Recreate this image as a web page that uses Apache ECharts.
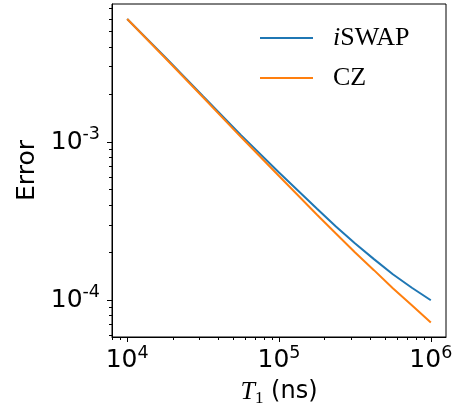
<!DOCTYPE html>
<html><head><meta charset="utf-8">
<script src="https://cdn.jsdelivr.net/npm/echarts@6/dist/echarts.min.js"></script>
<style>html,body{margin:0;padding:0;background:#fff}#c{width:461px;height:409px}</style>
</head><body><div id="c"></div>
<script>
// Data
const t1Values = [10000, 17800, 31600, 56200, 100000, 178000, 237000, 316000, 422000, 562000, 750000, 1000000];
const iswapError = [6.00e-3, 3.44e-3, 1.95e-3, 1.107e-3, 6.42e-4, 3.79e-4, 2.93e-4, 2.29e-4, 1.82e-4, 1.46e-4, 1.20e-4, 1.00e-4];
const czError = [6.00e-3, 3.40e-3, 1.92e-3, 1.076e-3, 6.11e-4, 3.47e-4, 2.64e-4, 2.01e-4, 1.55e-4, 1.19e-4, 9.3e-5, 7.23e-5];
const seriesNames = ['iSWAP', 'CZ'];
const xMajorTicks = [1e4, 1e5, 1e6];
const yMajorTicks = [1e-4, 1e-3];
const xMinorTicks = [8e3, 9e3, 2e4, 3e4, 4e4, 5e4, 6e4, 7e4, 8e4, 9e4, 2e5, 3e5, 4e5, 5e5, 6e5, 7e5, 8e5, 9e5];
const yMinorTicks = [6e-5, 7e-5, 8e-5, 9e-5, 2e-4, 3e-4, 4e-4, 5e-4, 6e-4, 7e-4, 8e-4, 9e-4, 2e-3, 3e-3, 4e-3, 5e-3, 6e-3, 7e-3];
const xRange = [7943, 1258925];
const yRange = [5.856e-5, 7.468e-3];

const SANS = 'DejaVu Sans';
const SERIF = 'Liberation Serif';
const powRich = {
  b: { fontSize: 25, fontFamily: SANS, color: '#000', lineHeight: 33, verticalAlign: 'middle' },
  s: { fontSize: 17.5, fontFamily: SANS, color: '#000', lineHeight: 17, verticalAlign: 'top' }
};
function powLabel(v) {
  const e = Math.round(Math.log10(v));
  return '{b|10}{s|' + (e < 0 ? '-' + (-e) : e) + '}';
}
const chart = echarts.init(document.getElementById('c'), null, { renderer: 'canvas' });
const tickLine = { color: '#000', width: 1 };
chart.setOption({
  animation: false,
  backgroundColor: '#fff',
  grid: { left: 112, right: 15, top: 4, bottom: 72, show: true, borderColor: '#000', borderWidth: 1, containLabel: false, outerBoundsMode: 'none' },
  legend: {
    orient: 'vertical', left: 260, top: 25, padding: 0,
    icon: 'rect', itemWidth: 53, itemHeight: 2, itemGap: 14,
    data: seriesNames,
    formatter: function (n) { return n === 'iSWAP' ? '{i|i}{r|SWAP}' : '{r|' + n + '}'; },
    textStyle: {
      padding: [0, 0, 0, 15],
      rich: {
        i: { fontFamily: SERIF, fontStyle: 'italic', fontSize: 26, color: '#000', lineHeight: 26 },
        r: { fontFamily: SERIF, fontSize: 26, color: '#000', lineHeight: 26 }
      }
    }
  },
  xAxis: [{
    type: 'log', min: xRange[0], max: xRange[1],
    axisLine: { show: true, lineStyle: tickLine },
    axisTick: { show: true, length: 5, lineStyle: tickLine, customValues: xMajorTicks },
    axisLabel: { customValues: xMajorTicks, margin: 7, formatter: powLabel, rich: powRich },
    splitLine: { show: false },
    name: '{t|T}{sub|1}{n| (ns)}', nameLocation: 'middle', nameGap: 40,
    nameTextStyle: {
      rich: {
        t: { fontFamily: SERIF, fontStyle: 'italic', fontSize: 26, color: '#000', lineHeight: 30, verticalAlign: 'middle' },
        sub: { fontFamily: SERIF, fontSize: 17, color: '#000', lineHeight: 17, verticalAlign: 'bottom' },
        n: { fontFamily: SANS, fontSize: 24, color: '#000', lineHeight: 30, verticalAlign: 'middle' }
      }
    }
  }, {
    type: 'log', min: xRange[0], max: xRange[1], position: 'bottom',
    axisLine: { show: false },
    axisTick: { show: true, length: 3, lineStyle: tickLine, customValues: xMinorTicks },
    axisLabel: { show: false },
    splitLine: { show: false }
  }],
  yAxis: [{
    type: 'log', min: yRange[0], max: yRange[1],
    axisLine: { show: true, lineStyle: tickLine },
    axisTick: { show: true, length: 5, lineStyle: tickLine, customValues: yMajorTicks },
    axisLabel: { customValues: yMajorTicks, margin: 12, formatter: powLabel, rich: powRich },
    splitLine: { show: false },
    name: 'Error', nameLocation: 'middle', nameGap: 72,
    nameTextStyle: { fontFamily: SANS, fontSize: 25, color: '#000' }
  }, {
    type: 'log', min: yRange[0], max: yRange[1], position: 'left',
    axisLine: { show: false },
    axisTick: { show: true, length: 3, lineStyle: tickLine, customValues: yMinorTicks },
    axisLabel: { show: false },
    splitLine: { show: false }
  }],
  series: [{
    name: seriesNames[0], type: 'line', symbol: 'none', smooth: false,
    data: t1Values.map((x, i) => [x, iswapError[i]]),
    lineStyle: { color: '#1f77b4', width: 2 }, itemStyle: { color: '#1f77b4' }
  }, {
    name: seriesNames[1], type: 'line', symbol: 'none', smooth: false,
    data: t1Values.map((x, i) => [x, czError[i]]),
    lineStyle: { color: '#ff7f0e', width: 2 }, itemStyle: { color: '#ff7f0e' }
  }]
});
</script></body></html>
